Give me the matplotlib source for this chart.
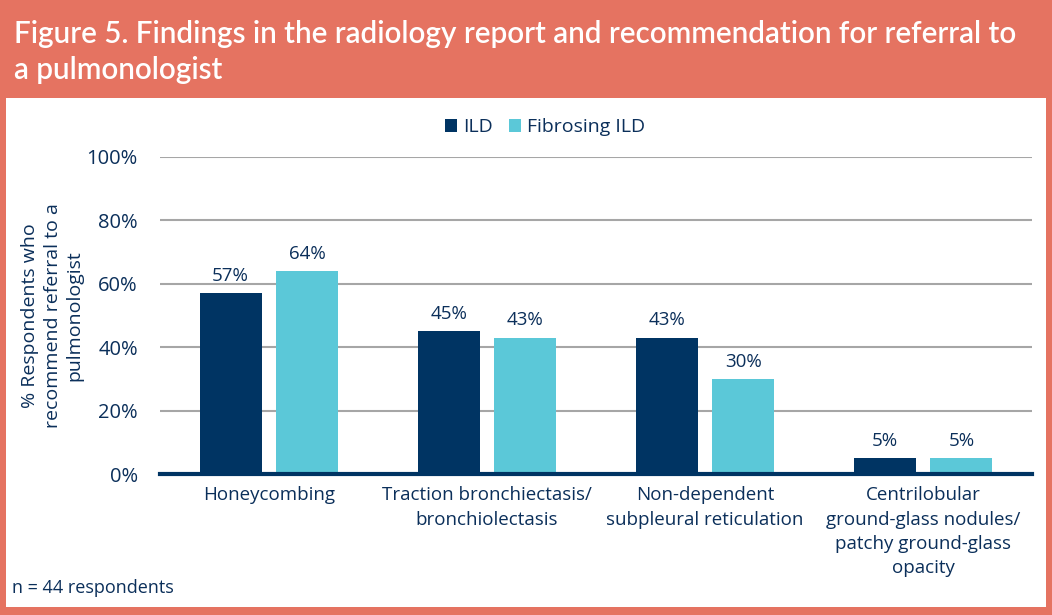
import matplotlib.pyplot as plt
import numpy as np
from matplotlib.patches import Rectangle

# data
categories = ['Honeycombing', 'Traction bronchiectasis/\nbronchiolectasis',
              'Non-dependent\nsubpleural reticulation',
              'Centrilobular\nground-glass nodules/\npatchy ground-glass\nopacity']
ild = [57, 45, 43, 5]
fibrosing = [64, 43, 30, 5]
series_names = ['ILD', 'Fibrosing ILD']

navy = '#003463'
teal = '#5BC8D8'
salmon = '#E57361'
txt = '#0B2F5A'

plt.rcParams['font.family'] = ['Open Sans', 'DejaVu Sans']

fig = plt.figure(figsize=(10.52, 6.15), dpi=100)
fig.patch.set_facecolor(salmon)
# white panel
fig.patches.append(Rectangle((6/1052, 8/615), 1040/1052, (615-98-8)/615,
                             transform=fig.transFigure, facecolor='white',
                             edgecolor='none', zorder=-1))
fig.text(14/1052, 1 - 52/615, 'Figure 5. Findings in the radiology report and recommendation for referral to\na pulmonologist',
         color='white', fontsize=21.3, fontweight='semibold', va='center', ha='left',
         linespacing=1.33, family=['Lato', 'DejaVu Sans'])

ax = fig.add_axes([160/1052, (615-474)/615, 872/1052, 317/615])
ax.set_zorder(2)
ax.set_facecolor('white')
x = np.arange(len(categories))
w = 0.284
ax.bar(x - 0.176, ild, w, color=navy, label=series_names[0], zorder=3)
ax.bar(x + 0.176, fibrosing, w, color=teal, label=series_names[1], zorder=3)

for xi, v in zip(x, ild):
    ax.text(xi - 0.176, v + 2.6, f'{v}%', ha='center', va='bottom', fontsize=13.5, color=txt)
for xi, v in zip(x, fibrosing):
    ax.text(xi + 0.176, v + 2.6, f'{v}%', ha='center', va='bottom', fontsize=13.5, color=txt)

ax.set_xlim(-0.5, 3.5)
ax.set_ylim(0, 100)
ax.set_yticks(range(0, 101, 20))
ax.set_yticklabels([f'{t}%' for t in range(0, 101, 20)])
ax.yaxis.grid(True, color='#A6A6A6', linewidth=1.5, zorder=0)
ax.set_axisbelow(True)
for s in ['top', 'right', 'left']:
    ax.spines[s].set_visible(False)
ax.spines['bottom'].set_color(navy)
ax.spines['bottom'].set_linewidth(3)
ax.spines['bottom'].set_zorder(4)
ax.tick_params(axis='y', length=0, labelsize=14.5, labelcolor=txt, pad=16)
ax.tick_params(axis='x', length=0, labelsize=13.5, labelcolor=txt, pad=9)
ax.set_xticks(x)
ax.set_xticklabels(categories, linespacing=1.45)

ax.set_ylabel('% Respondents who\nrecommend referral to a\npulmonologist', fontsize=14,
              color=txt, linespacing=1.3, labelpad=2)

ax.legend(loc='center', bbox_to_anchor=(545/1052, 1 - 127/615), bbox_transform=fig.transFigure,
          ncol=2, frameon=False, fontsize=14, labelcolor=txt, handlelength=0.65,
          handleheight=0.65, handletextpad=0.3, columnspacing=0.8)

fig.text(12/1052, 1 - 588/615, 'n = 44 respondents', fontsize=13, color=txt, va='center')

fig.savefig('out.png', dpi=100, facecolor=salmon)
